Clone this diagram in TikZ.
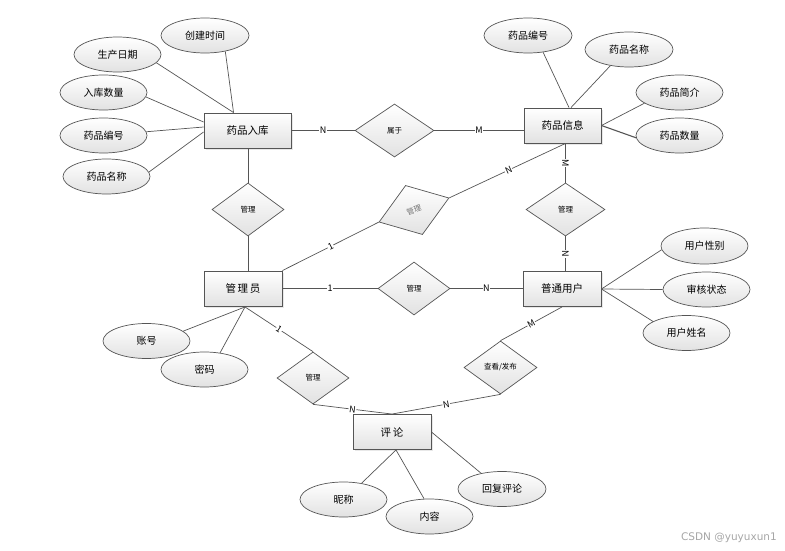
\documentclass[tikz,border=0pt]{standalone}
\usepackage{fontspec}
\setmainfont{Noto Sans CJK SC}
\newfontfamily\wmfont{DejaVu Sans}
\usetikzlibrary{shapes.geometric,shadows,calc}
\definecolor{edgec}{HTML}{555555}
\definecolor{shadeb}{HTML}{E2E2E2}
\tikzset{
  ent/.style={rectangle, draw=edgec, line width=0.9pt, top color=white, bottom color=shadeb,
    minimum width=78pt, minimum height=35pt, inner sep=0pt,
    font=\fontsize{10.5}{12}\selectfont,
    drop shadow={opacity=0.18, shadow xshift=1.5pt, shadow yshift=-1.5pt}},
  attr/.style={ellipse, draw=edgec, line width=0.7pt, top color=white, bottom color=shadeb,
    minimum width=87pt, minimum height=35pt, inner sep=0pt,
    font=\fontsize{10}{12}\selectfont},
  rel/.style={diamond, draw=edgec, line width=0.7pt, top color=white, bottom color=shadeb,
    minimum width=72pt, minimum height=53pt, inner sep=0pt,
    font=\fontsize{7.5}{9}\selectfont},
  lbl/.style={fill=white, inner sep=0.6pt, font=\fontsize{9}{10}\selectfont},
  ln/.style={draw=edgec, line width=0.7pt},
}
\begin{document}
\begin{tikzpicture}[x=1pt,y=-1pt]
\useasboundingbox (0,0) rectangle (785,551);

% entities
\node[ent, minimum width=87pt] (rk) at (247.5,130.5) {药品入库};
\node[ent, minimum width=77pt] (xi) at (562.5,125.5) {药品信息};
\node[ent] (adm) at (243,288.5) {管\,理\,员};
\node[ent] (pt) at (562,289) {普通用户};
\node[ent] (pl) at (392,432) {评\,论};

% relationships
\node[rel, minimum width=79pt] (sy) at (394.5,130.5) {属于};
\node[rel] (g1) at (248,209.5) {管理};
\node[rel, minimum width=74pt, minimum height=52pt, rotate=19, text=black!55] (gx) at (414,210) {管理};
\node[rel, minimum width=79pt] (g2) at (565.5,209.5) {管理};
\node[rel] (gm) at (414,288.5) {管理};
\node[rel, minimum height=52pt] (g3) at (313,378) {管理};
\node[rel, minimum width=73pt] (ck) at (500.5,367.5) {查看/发布};

% attributes of 药品入库
\node[attr, minimum width=88pt] (cj) at (205,35.5) {创建时间};
\node[attr] (sc) at (117.5,54.5) {生产日期};
\node[attr] (rs) at (103.5,92.5) {入库数量};
\node[attr] (bh) at (103.5,135.5) {药品编号};
\node[attr] (mc) at (106.5,176.5) {药品名称};

% attributes of 药品信息
\node[attr, minimum width=88pt] (bh2) at (528,35.5) {药品编号};
\node[attr, minimum width=88pt] (mc2) at (629,49.5) {药品名称};
\node[attr] (jj) at (679.5,92.5) {药品简介};
\node[attr] (sl) at (679.5,135.5) {药品数量};

% attributes of 普通用户
\node[attr, minimum height=36pt] (xb) at (704.5,246) {用户性别};
\node[attr] (zt) at (706.5,289.5) {审核状态};
\node[attr] (xm) at (686.5,333) {用户姓名};

% attributes of 管理员
\node[attr] (zh) at (146.5,341) {账号};
\node[attr] (mm) at (204.5,369.5) {密码};

% attributes of 评论
\node[attr] (nc) at (343.5,499.5) {昵称};
\node[attr] (nr) at (429.5,516.5) {内容};
\node[attr, minimum width=88pt] (hf) at (502,489) {回复评论};

% connection points
\coordinate (rkT) at ($(rk.north west)+(30,0)$);
\coordinate (rkA) at ($(rk.west)+(0,-8.5)$);
\coordinate (rkB) at ($(rk.west)+(0,-3.5)$);
\coordinate (rkC) at ($(rk.west)+(0,1.5)$);
\coordinate (xiB) at ($(xi.south)+(3,0)$);
\coordinate (xiT1) at ($(xi.north)+(6.5,0)$);
\coordinate (xiT2) at ($(xi.north)+(8.5,0)$);
\coordinate (admB) at ($(adm.south)+(2,0.5)$);
\coordinate (plB) at ($(pl.south)+(4,0)$);

% attribute lines
\draw[ln] (rkT) -- (cj.-38);
\draw[ln] (rkT) -- (sc.-12);
\draw[ln] (rkA) -- (rs.-6);
\draw[ln] (rkB) -- (bh.5);
\draw[ln] (rkC) -- (mc.6);

\draw[ln] (xiT1) -- (bh2.-48);
\draw[ln] (xiT2) -- (mc2.221);
\draw[ln] (xi.east) -- (jj.197);
\draw[ln, line width=1.1pt] (xi.east) -- (sl.183);

\draw[ln] (pt.east) -- (xb.185);
\draw[ln] (pt.east) -- (zt.180);
\draw[ln] (pt.east) -- (xm.161);

\draw[ln] (admB) -- (zh.15);
\draw[ln] (admB) -- (mm.47);

\draw[ln] (plB) -- (nc.42);
\draw[ln] (plB) -- (nr.107);
\draw[ln] (pl.east) -- (hf.143);

% relationship lines
\draw[ln] (rk.east) -- node[lbl]{N} (sy.west);
\draw[ln] (sy.east) -- node[lbl]{M} (xi.west |- sy.east);

\draw[ln] (rk.south -| g1.north) -- (g1.north);
\draw[ln] (g1.south) -- (adm.north -| g1.south);

\draw[ln] (adm.north east) -- node[lbl, sloped]{1} (gx.west);
\draw[ln] (gx.east) -- node[lbl, sloped, pos=0.51]{N} (xiB);

\draw[ln] (xiB) -- node[lbl, rotate=-90]{M} (g2.north);
\draw[ln] (g2.south) -- node[lbl, rotate=-90]{N} (pt.north -| g2.south);

\draw[ln] (adm.east) -- node[lbl]{1} (gm.west);
\draw[ln] (gm.east) -- node[lbl]{N} (pt.west |- gm.east);

\draw[ln] (admB) -- node[lbl, sloped]{1} (g3.north);
\draw[ln] (g3.south) -- node[lbl, sloped]{N} (pl.north);

\draw[ln] (pt.south) -- node[lbl, sloped]{M} (ck.north);
\draw[ln] (ck.south) -- node[lbl, sloped]{N} (pl.north);

% watermark
\node[font=\wmfont\fontsize{10.5}{12}\selectfont, text=black!35, anchor=east, inner sep=0pt] (wm) at (777,538) {CSDN @yuyuxun1};
\end{tikzpicture}
\end{document}
